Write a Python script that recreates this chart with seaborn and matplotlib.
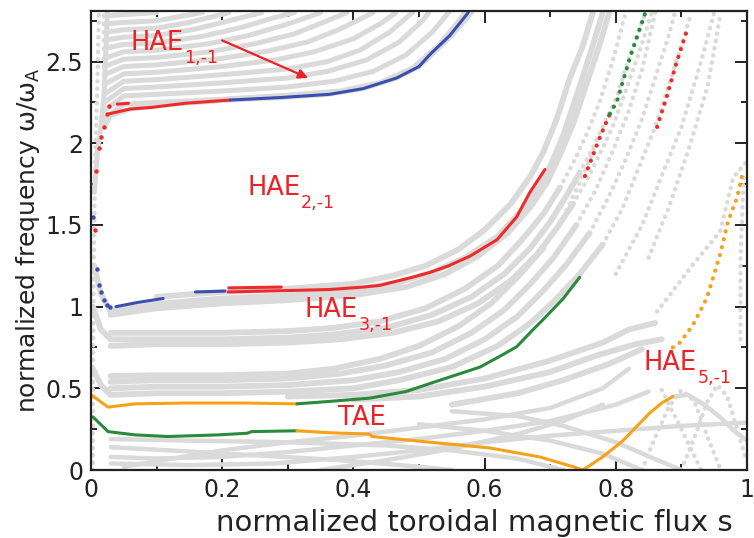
import numpy as np
import pandas as pd
import matplotlib
matplotlib.use("Agg")
import matplotlib.pyplot as plt
from matplotlib.ticker import MultipleLocator, FuncFormatter
import seaborn as sns

# ---------------- data ----------------
# gray Alfven continuum branches: lists of (s, omega) points
GRAY_UPPER = [
    [(0.02, 2.10), (0.03, 2.17), (0.06, 2.21), (0.11, 2.235), (0.16, 2.25), (0.21, 2.265), (0.29, 2.28), (0.36, 2.30), (0.415, 2.335), (0.466, 2.40), (0.50, 2.47), (0.52, 2.545), (0.55, 2.66), (0.58, 2.80)],
    [(0.02, 2.15), (0.05, 2.24), (0.10, 2.25), (0.20, 2.27), (0.30, 2.295), (0.38, 2.32), (0.44, 2.37), (0.49, 2.46), (0.53, 2.60), (0.555, 2.72), (0.57, 2.80)],
    [(0.02, 2.20), (0.05, 2.29), (0.10, 2.30), (0.20, 2.32), (0.30, 2.345), (0.37, 2.38), (0.43, 2.44), (0.48, 2.54), (0.52, 2.68), (0.545, 2.80)],
    [(0.02, 2.25), (0.05, 2.335), (0.10, 2.345), (0.20, 2.37), (0.30, 2.40), (0.36, 2.44), (0.42, 2.51), (0.47, 2.62), (0.505, 2.75), (0.515, 2.80)],
    [(0.02, 2.30), (0.05, 2.38), (0.10, 2.39), (0.20, 2.42), (0.30, 2.455), (0.36, 2.50), (0.41, 2.57), (0.455, 2.68), (0.49, 2.80)],
    [(0.02, 2.36), (0.05, 2.425), (0.10, 2.435), (0.20, 2.47), (0.28, 2.51), (0.34, 2.56), (0.40, 2.64), (0.44, 2.73), (0.465, 2.80)],
    [(0.02, 2.42), (0.05, 2.47), (0.10, 2.48), (0.20, 2.52), (0.27, 2.565), (0.33, 2.62), (0.38, 2.70), (0.43, 2.80)],
    [(0.02, 2.47), (0.05, 2.515), (0.10, 2.525), (0.18, 2.56), (0.25, 2.61), (0.31, 2.67), (0.36, 2.75), (0.39, 2.80)],
    [(0.02, 2.52), (0.05, 2.56), (0.10, 2.57), (0.18, 2.61), (0.24, 2.66), (0.30, 2.73), (0.35, 2.80)],
    [(0.02, 2.58), (0.05, 2.605), (0.10, 2.615), (0.17, 2.655), (0.23, 2.71), (0.28, 2.77), (0.31, 2.80)],
    [(0.02, 2.63), (0.05, 2.65), (0.10, 2.66), (0.16, 2.70), (0.22, 2.76), (0.26, 2.80)],
    [(0.02, 2.68), (0.05, 2.695), (0.10, 2.705), (0.15, 2.74), (0.20, 2.79), (0.21, 2.80)],
    [(0.02, 2.73), (0.05, 2.74), (0.10, 2.75), (0.14, 2.78), (0.17, 2.80)],
    [(0.02, 2.78), (0.06, 2.79), (0.10, 2.80)],
    [(0.005, 1.70), (0.010, 1.95), (0.015, 2.10), (0.020, 2.30), (0.022, 2.50), (0.025, 2.80)],
]

GRAY_MIDDLE = [
    # band around HAE 3,-1
    [(0.005, 1.25), (0.015, 1.08), (0.03, 0.97), (0.06, 0.99), (0.11, 1.02), (0.20, 1.05), (0.30, 1.07), (0.40, 1.10), (0.47, 1.15), (0.52, 1.21), (0.57, 1.30), (0.62, 1.43), (0.655, 1.58), (0.68, 1.72), (0.70, 1.86), (0.72, 2.05), (0.745, 2.35), (0.765, 2.60), (0.78, 2.80)],
    [(0.03, 0.95), (0.10, 0.99), (0.20, 1.02), (0.30, 1.04), (0.40, 1.07), (0.48, 1.12), (0.54, 1.20), (0.59, 1.31), (0.635, 1.45), (0.67, 1.61), (0.695, 1.76), (0.715, 1.93), (0.735, 2.12), (0.76, 2.42), (0.775, 2.60), (0.79, 2.80)],
    [(0.10, 1.06), (0.20, 1.09), (0.30, 1.11), (0.40, 1.14), (0.46, 1.19), (0.51, 1.25), (0.56, 1.35), (0.60, 1.47), (0.64, 1.63), (0.67, 1.80), (0.69, 1.95), (0.71, 2.15), (0.73, 2.40), (0.75, 2.60), (0.765, 2.80)],
    # band near 0.8
    [(0.003, 1.00), (0.015, 0.86), (0.03, 0.80), (0.10, 0.80), (0.20, 0.80), (0.30, 0.81), (0.37, 0.83), (0.45, 0.87), (0.52, 0.95), (0.58, 1.06), (0.63, 1.20), (0.67, 1.36), (0.70, 1.52), (0.725, 1.68), (0.745, 1.82)],
    [(0.03, 0.76), (0.10, 0.77), (0.20, 0.77), (0.30, 0.78), (0.38, 0.80), (0.46, 0.84), (0.53, 0.91), (0.59, 1.02), (0.64, 1.16), (0.68, 1.32), (0.71, 1.48), (0.735, 1.63)],
    [(0.03, 0.84), (0.10, 0.84), (0.20, 0.84), (0.30, 0.85), (0.37, 0.87), (0.44, 0.91), (0.51, 0.99), (0.57, 1.11), (0.62, 1.25), (0.655, 1.40), (0.69, 1.57), (0.715, 1.73)],
    # band near 0.5
    [(0.003, 0.62), (0.015, 0.52), (0.03, 0.46), (0.10, 0.47), (0.20, 0.47), (0.30, 0.48), (0.40, 0.50), (0.47, 0.55), (0.55, 0.63), (0.62, 0.76), (0.67, 0.90), (0.71, 1.05), (0.745, 1.20), (0.78, 1.38)],
    [(0.03, 0.50), (0.10, 0.51), (0.20, 0.51), (0.30, 0.52), (0.40, 0.55), (0.47, 0.60), (0.54, 0.68), (0.60, 0.80), (0.65, 0.94), (0.69, 1.10), (0.725, 1.26), (0.76, 1.45)],
    [(0.03, 0.54), (0.10, 0.55), (0.20, 0.55), (0.30, 0.56), (0.38, 0.59), (0.45, 0.64), (0.52, 0.72), (0.58, 0.84), (0.63, 0.98), (0.67, 1.14), (0.705, 1.30), (0.74, 1.50)],
    [(0.03, 0.575), (0.10, 0.58), (0.20, 0.58), (0.30, 0.59), (0.37, 0.62), (0.44, 0.68), (0.50, 0.76), (0.56, 0.88), (0.61, 1.02), (0.65, 1.18), (0.69, 1.36)],
    [(0.30, 0.45), (0.40, 0.46), (0.50, 0.49), (0.60, 0.56), (0.70, 0.67), (0.78, 0.78), (0.82, 0.86), (0.86, 0.90)],
    [(0.40, 0.43), (0.50, 0.45), (0.60, 0.51), (0.70, 0.60), (0.77, 0.70), (0.83, 0.77), (0.87, 0.80)],
    [(0.55, 0.40), (0.65, 0.47), (0.72, 0.55), (0.79, 0.65), (0.84, 0.74)],
]

GRAY_LOWER = [
    [(0.03, 0.19), (0.15, 0.18), (0.30, 0.17), (0.45, 0.15), (0.55, 0.12), (0.65, 0.07), (0.72, 0.00)],
    [(0.03, 0.14), (0.12, 0.12), (0.25, 0.09), (0.38, 0.06), (0.50, 0.02), (0.55, 0.00)],
    [(0.03, 0.08), (0.10, 0.07), (0.20, 0.08), (0.30, 0.11), (0.40, 0.15), (0.50, 0.19), (0.60, 0.24), (0.70, 0.30), (0.80, 0.40), (0.85, 0.48)],
    [(0.03, 0.04), (0.15, 0.03), (0.28, 0.04), (0.40, 0.08), (0.50, 0.12), (0.60, 0.17), (0.70, 0.21), (0.80, 0.24), (0.90, 0.27), (1.00, 0.29)],
    [(0.05, 0.02), (0.20, 0.12), (0.30, 0.17), (0.40, 0.21), (0.50, 0.26), (0.60, 0.31), (0.70, 0.38), (0.78, 0.50), (0.82, 0.62)],
    [(0.35, 0.00), (0.45, 0.06), (0.55, 0.13), (0.65, 0.22), (0.72, 0.30), (0.78, 0.40)],
    [(0.50, 0.28), (0.60, 0.24), (0.70, 0.18), (0.78, 0.10), (0.84, 0.00)],
    [(0.55, 0.36), (0.65, 0.33), (0.72, 0.27), (0.80, 0.17), (0.87, 0.05), (0.90, 0.00)],
    [(0.887, 0.45), (0.91, 0.46), (0.935, 0.40), (0.96, 0.32), (0.98, 0.24), (1.00, 0.18)],
]

GRAY_DOTTED = [
    [(0.003, 0.00), (0.003, 0.50), (0.004, 1.00), (0.005, 1.50), (0.007, 2.00), (0.010, 2.40), (0.012, 2.80)],
    [(0.745, 1.82), (0.765, 1.97), (0.78, 2.10), (0.80, 2.27), (0.82, 2.52), (0.845, 2.80)],
    [(0.735, 1.63), (0.755, 1.77), (0.775, 1.93), (0.795, 2.10), (0.815, 2.32), (0.835, 2.55), (0.855, 2.80)],
    [(0.715, 1.73), (0.735, 1.88), (0.755, 2.05), (0.775, 2.25), (0.795, 2.50), (0.815, 2.80)],
    [(0.78, 1.38), (0.81, 1.60), (0.835, 1.85), (0.86, 2.10), (0.88, 2.35), (0.90, 2.60), (0.915, 2.80)],
    [(0.76, 1.45), (0.79, 1.68), (0.815, 1.90), (0.84, 2.15), (0.86, 2.40), (0.88, 2.65), (0.89, 2.80)],
    [(0.74, 1.50), (0.77, 1.72), (0.795, 1.95), (0.82, 2.20), (0.84, 2.45), (0.86, 2.80)],
    [(0.69, 1.36), (0.72, 1.55), (0.75, 1.80), (0.77, 2.00)],
    [(0.80, 1.20), (0.84, 1.50), (0.87, 1.80), (0.90, 2.10), (0.93, 2.50), (0.95, 2.80)],
    [(0.85, 1.30), (0.88, 1.60), (0.91, 1.95), (0.94, 2.35), (0.96, 2.80)],
    [(0.863, 0.97), (0.918, 1.26), (0.959, 1.46), (0.979, 1.79), (1.00, 1.89)],
    [(0.84, 0.00), (0.86, 0.20), (0.88, 0.38), (0.90, 0.49), (0.92, 0.42), (0.94, 0.20), (0.96, 0.00)],
    [(0.90, 0.00), (0.92, 0.20), (0.94, 0.42), (0.955, 0.52), (0.97, 0.45), (0.99, 0.18), (1.00, 0.05)],
    [(0.87, 0.49), (0.90, 0.25), (0.93, 0.00)],
    [(0.99, 0.80), (0.99, 1.30), (0.995, 1.80)],
]

# colored eigenmode branches
HAE1_RED_S = [0.027, 0.06, 0.093, 0.143, 0.212]
HAE1_RED_W = [2.18, 2.21, 2.22, 2.245, 2.265]
HAE1_RED2_S = [0.040, 0.057]
HAE1_RED2_W = [2.24, 2.245]
HAE1_BLUE_S = [0.212, 0.288, 0.364, 0.415, 0.466, 0.50, 0.517, 0.547, 0.575]
HAE1_BLUE_W = [2.265, 2.28, 2.30, 2.335, 2.40, 2.47, 2.545, 2.66, 2.80]
EDGE_RED_S = [0.006, 0.008, 0.012, 0.015, 0.020, 0.024, 0.028]
EDGE_RED_W = [1.47, 1.83, 1.97, 2.04, 2.10, 2.18, 2.23]
EDGE_BLUE_S = [0.003, 0.009, 0.012, 0.016, 0.020, 0.024, 0.029]
EDGE_BLUE_W = [1.55, 1.23, 1.135, 1.09, 1.04, 1.01, 1.00]

HAE3_BLUE_S = [0.038, 0.07, 0.11]
HAE3_BLUE_W = [1.00, 1.025, 1.05]
HAE3_BLUE2_S = [0.159, 0.204]
HAE3_BLUE2_W = [1.09, 1.095]
HAE3_RED_S = [0.209, 0.26, 0.314, 0.364, 0.415, 0.44, 0.49, 0.517, 0.545, 0.578, 0.619, 0.649, 0.669, 0.692]
HAE3_RED_W = [1.09, 1.095, 1.10, 1.105, 1.12, 1.13, 1.18, 1.21, 1.25, 1.31, 1.41, 1.55, 1.70, 1.84]
HAE3_RED2_S = [0.21, 0.29]
HAE3_RED2_W = [1.115, 1.12]

TAE_UP_ORANGE_S = [0.002, 0.026, 0.067, 0.143, 0.235, 0.314]
TAE_UP_ORANGE_W = [0.455, 0.385, 0.405, 0.41, 0.41, 0.405]
TAE_UP_GREEN_S = [0.314, 0.364, 0.425, 0.48, 0.517, 0.555, 0.593, 0.625, 0.649, 0.674, 0.689, 0.72, 0.745]
TAE_UP_GREEN_W = [0.405, 0.42, 0.44, 0.48, 0.53, 0.58, 0.63, 0.70, 0.755, 0.86, 0.92, 1.05, 1.18]
TAE_LO_GREEN_S = [0.003, 0.026, 0.067, 0.117, 0.194, 0.238, 0.245, 0.314]
TAE_LO_GREEN_W = [0.325, 0.235, 0.215, 0.205, 0.215, 0.225, 0.235, 0.24]
TAE_LO_ORANGE_S = [0.314, 0.364, 0.425, 0.428, 0.517, 0.608, 0.684, 0.735, 0.75, 0.78, 0.811, 0.852, 0.87, 0.887]
TAE_LO_ORANGE_W = [0.24, 0.228, 0.22, 0.205, 0.17, 0.135, 0.08, 0.02, 0.0, 0.08, 0.18, 0.35, 0.41, 0.45]

HAE5_S = [0.887, 0.898, 0.918, 0.939, 0.959, 0.971, 0.985, 0.994]
HAE5_W = [0.75, 0.78, 0.89, 1.055, 1.32, 1.52, 1.67, 1.83]
RIGHT_RED1_S = [0.753, 0.776, 0.791]
RIGHT_RED1_W = [1.80, 2.04, 2.18]
RIGHT_GREEN_S = [0.791, 0.802, 0.822, 0.845]
RIGHT_GREEN_W = [2.18, 2.26, 2.53, 2.80]
RIGHT_RED2_S = [0.863, 0.878, 0.893, 0.910]
RIGHT_RED2_W = [2.10, 2.29, 2.50, 2.71]

# mode labels: (main text, subscript, s, omega)
LABELS = [
    ("HAE", "1,-1", 0.0595, 2.572),
    ("HAE", "2,-1", 0.238, 1.684),
    ("HAE", "3,-1", 0.325, 0.937),
    ("TAE", "", 0.377, 0.276),
    ("HAE", "5,-1", 0.842, 0.612),
]
ARROW_FROM = (0.20, 2.63)
ARROW_TO = (0.331, 2.40)

X_TICKS = [0, 0.2, 0.4, 0.6, 0.8, 1.0]
Y_TICKS = [0, 0.5, 1.0, 1.5, 2.0, 2.5]

# ---------------- style ----------------
sns.set_theme(style="ticks")
plt.rcParams["font.family"] = ["DejaVu Sans"]
plt.rcParams["mathtext.fontset"] = "dejavusans"

GRAY = "#dadada"
RED = "#ee2b2b"
BLUE = "#3b4fae"
GREEN = "#2a8a3c"
ORANGE = "#f7a11a"
LABEL_RED = "#ec2227"
INK = "#222222"

fig = plt.figure(figsize=(7.54, 5.38), dpi=100)
ax = fig.add_axes([91 / 754, 68 / 538, 656 / 754, 459 / 538])


def to_frame(curves):
    rows = []
    for k, c in enumerate(curves):
        for s, w in c:
            rows.append((k, s, w))
    return pd.DataFrame(rows, columns=["curve", "s", "omega"])


for group, lw in ((GRAY_UPPER, 3.6), (GRAY_MIDDLE, 4.2), (GRAY_LOWER, 3.2)):
    sns.lineplot(data=to_frame(group), x="s", y="omega", units="curve",
                 estimator=None, sort=False, color=GRAY, lw=lw, ax=ax,
                 legend=False, solid_capstyle="round", zorder=1)
for c in GRAY_DOTTED:
    xs, ys = zip(*c)
    ax.plot(xs, ys, color=GRAY, lw=3.2, linestyle=(0, (0.05, 1.6)),
            dash_capstyle="round", zorder=1)

solid_sets = [
    (HAE1_RED_S, HAE1_RED_W, RED), (HAE1_RED2_S, HAE1_RED2_W, RED),
    (HAE1_BLUE_S, HAE1_BLUE_W, BLUE),
    (HAE3_BLUE_S, HAE3_BLUE_W, BLUE), (HAE3_BLUE2_S, HAE3_BLUE2_W, BLUE),
    (HAE3_RED_S, HAE3_RED_W, RED), (HAE3_RED2_S, HAE3_RED2_W, RED),
    (TAE_UP_ORANGE_S, TAE_UP_ORANGE_W, ORANGE), (TAE_UP_GREEN_S, TAE_UP_GREEN_W, GREEN),
    (TAE_LO_GREEN_S, TAE_LO_GREEN_W, GREEN), (TAE_LO_ORANGE_S, TAE_LO_ORANGE_W, ORANGE),
]
for xs, ys, col in solid_sets:
    sns.lineplot(x=xs, y=ys, sort=False, color=col, lw=2.2, ax=ax,
                 estimator=None, legend=False, zorder=3)

dotted_sets = [
    (HAE5_S, HAE5_W, ORANGE), (RIGHT_RED1_S, RIGHT_RED1_W, RED),
    (RIGHT_GREEN_S, RIGHT_GREEN_W, GREEN), (RIGHT_RED2_S, RIGHT_RED2_W, RED),
]
for xs, ys, col in dotted_sets:
    ax.plot(xs, ys, color=col, lw=3.0, linestyle=(0, (0.05, 1.9)),
            dash_capstyle="round", zorder=3)

ax.plot(EDGE_RED_S, EDGE_RED_W, "o", color=RED, ms=3.2, mew=0, zorder=3)
ax.plot(EDGE_BLUE_S, EDGE_BLUE_W, "o", color=BLUE, ms=3.2, mew=0, zorder=3)

# labels with dropped subscripts
fs = 18.5
for main, sub, s, w in LABELS:
    ax.text(s, w, main, color=LABEL_RED, fontsize=fs, va="baseline", zorder=5)
    if sub:
        ax.annotate(sub, xy=(s, w), xycoords="data", xytext=(54, -13),
                    textcoords="offset pixels", color=LABEL_RED,
                    fontsize=fs * 0.68, va="baseline", zorder=5)
ax.annotate("", xy=ARROW_TO, xytext=ARROW_FROM,
            arrowprops=dict(arrowstyle="-|>", color=LABEL_RED, lw=1.6,
                            mutation_scale=14, shrinkA=0, shrinkB=0), zorder=5)

ax.set_xlim(0, 1)
ax.set_ylim(0, 2.81)
ax.set_xticks(X_TICKS)
ax.set_yticks(Y_TICKS)
ax.xaxis.set_minor_locator(MultipleLocator(0.1))
ax.yaxis.set_minor_locator(MultipleLocator(0.25))
fmt = FuncFormatter(lambda v, p: f"{v:g}")
ax.xaxis.set_major_formatter(fmt)
ax.yaxis.set_major_formatter(fmt)
ax.tick_params(which="both", direction="in", top=True, right=True,
               width=1.4, colors=INK, labelsize=17, labelcolor=INK)
ax.tick_params(which="major", length=8.5, pad=5.5)
ax.tick_params(which="minor", length=4)
for sp in ax.spines.values():
    sp.set_linewidth(1.6)
    sp.set_color(INK)
    sp.set_zorder(6)

ax.set_xlabel("normalized toroidal magnetic flux s", fontsize=21, color=INK,
              ha="right", va="baseline")
ax.set_ylabel("normalized frequency ω/ω$_{\\mathrm{A}}$", fontsize=18, color=INK)
ax.xaxis.set_label_coords((733 - 91) / 656, (538 - 531 - 68) / 459)
ax.yaxis.set_label_coords(-0.075, 0.50)
ax.grid(False)

fig.savefig("out.png", dpi=100)
